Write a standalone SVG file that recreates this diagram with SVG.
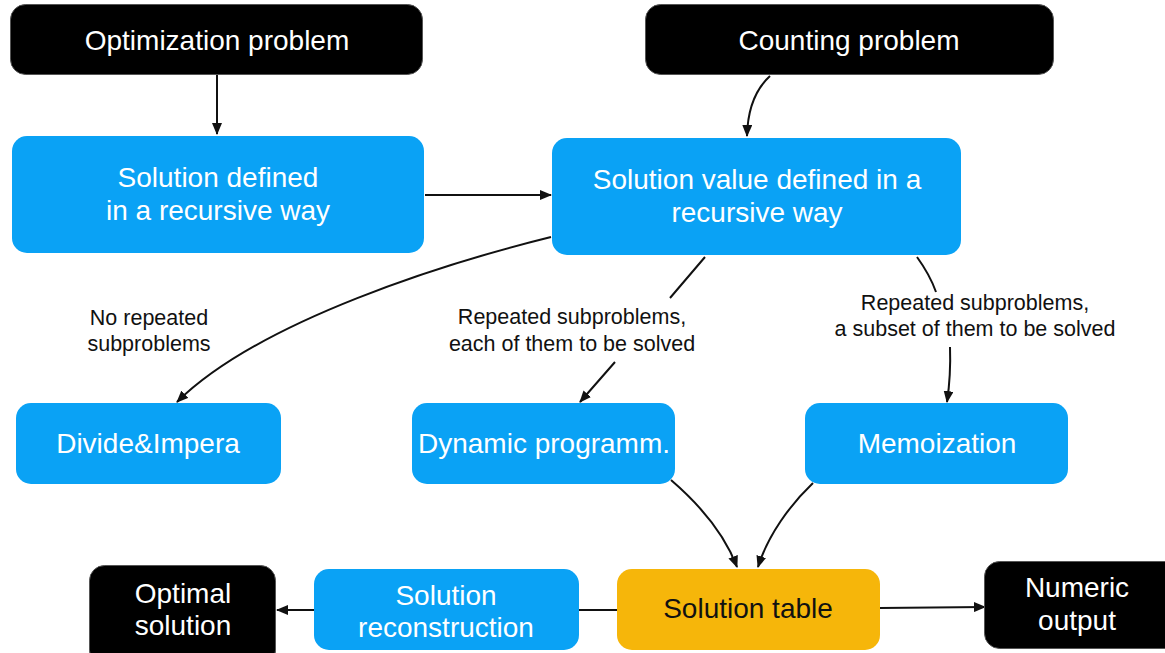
<svg xmlns="http://www.w3.org/2000/svg" width="1165" height="653" viewBox="0 0 1165 653">
<defs>
<style>
.blk{fill:#000;stroke:#555;stroke-width:1}
.blu{fill:#0AA2F5}
.yel{fill:#F6B60A}
.t{font-family:"Liberation Sans",Arial,sans-serif;font-size:28px;text-anchor:middle;fill:#fff}
.td{fill:#111}
.s{font-family:"Liberation Sans",Arial,sans-serif;font-size:21.5px;text-anchor:middle;fill:#111}
.c{fill:none;stroke:#111;stroke-width:2}
</style>
<marker id="ah" markerUnits="userSpaceOnUse" markerWidth="12" markerHeight="10" refX="11" refY="5" orient="auto"><path d="M0,0 L12,5 L0,10 z" fill="#111"/></marker>
</defs>
<rect width="1165" height="653" fill="#fff"/>
<g id="connectors">
<path class="c" d="M217,75 L217,134" marker-end="url(#ah)"/>
<path class="c" d="M770,76 Q748,96 747,136" marker-end="url(#ah)"/>
<path class="c" d="M425,195 L551,195" marker-end="url(#ah)"/>
<path class="c" d="M551,237 C450,262 260,320 177,402" marker-end="url(#ah)"/>
<path class="c" d="M705,257 L670,298 M615,362 L580,402" marker-end="url(#ah)"/>
<path class="c" d="M917,257 Q930,275 936,292 M950,347 Q951,375 947,402" marker-end="url(#ah)"/>
<path class="c" d="M671,480 C700,505 725,535 737,567" marker-end="url(#ah)"/>
<path class="c" d="M813,483 C790,505 768,535 758,567" marker-end="url(#ah)"/>
<path class="c" d="M880,608 L985,607" marker-end="url(#ah)"/>
<path class="c" d="M579,610 L617,610"/>
<path class="c" d="M314,610 L277,610" marker-end="url(#ah)"/>
<text class="s" x="149" y="325">No repeated</text>
<text class="s" x="149" y="351">subproblems</text>
<text class="s" x="572" y="324">Repeated subproblems,</text>
<text class="s" x="572" y="351">each of them to be solved</text>
<text class="s" x="975" y="310">Repeated subproblems,</text>
<text class="s" x="975" y="336">a subset of them to be solved</text>
</g>
<g id="optimization">
<rect class="blk" x="10.5" y="4.5" width="412" height="70" rx="15"/>
<text class="t" x="217" y="50">Optimization problem</text>
</g>
<g id="counting">
<rect class="blk" x="645.5" y="4.5" width="408" height="70" rx="15"/>
<text class="t" x="849" y="50">Counting problem</text>
</g>
<g id="solution-defined">
<rect class="blu" x="12" y="136" width="412" height="117" rx="15"/>
<text class="t" x="218" y="187">Solution defined</text>
<text class="t" x="218" y="220">in a recursive way</text>
</g>
<g id="solution-value">
<rect class="blu" x="552" y="138" width="409" height="117" rx="15"/>
<text class="t" x="757" y="189">Solution value defined in a</text>
<text class="t" x="757" y="222">recursive way</text>
</g>
<g id="divide">
<rect class="blu" x="16" y="403" width="265" height="81" rx="15"/>
<text class="t" x="148" y="453">Divide&amp;Impera</text>
</g>
<g id="dynamic">
<rect class="blu" x="412" y="403" width="263" height="81" rx="15"/>
<text class="t" x="544" y="453">Dynamic programm.</text>
</g>
<g id="memoization">
<rect class="blu" x="805" y="403" width="263" height="81" rx="15"/>
<text class="t" x="937" y="453">Memoization</text>
</g>
<g id="optimal">
<rect class="blk" x="89.5" y="565.5" width="186" height="100" rx="15"/>
<text class="t" x="183" y="603">Optimal</text>
<text class="t" x="183" y="635">solution</text>
</g>
<g id="reconstruction">
<rect class="blu" x="314" y="569" width="265" height="81" rx="15"/>
<text class="t" x="446" y="605">Solution</text>
<text class="t" x="446" y="637">reconstruction</text>
</g>
<g id="table">
<rect class="yel" x="617" y="569" width="263" height="81" rx="15"/>
<text class="t td" x="748" y="618">Solution table</text>
</g>
<g id="numeric">
<rect class="blk" x="984.5" y="561.5" width="200" height="87" rx="15"/>
<text class="t" x="1077" y="597">Numeric</text>
<text class="t" x="1077" y="630">output</text>
</g>
</svg>
